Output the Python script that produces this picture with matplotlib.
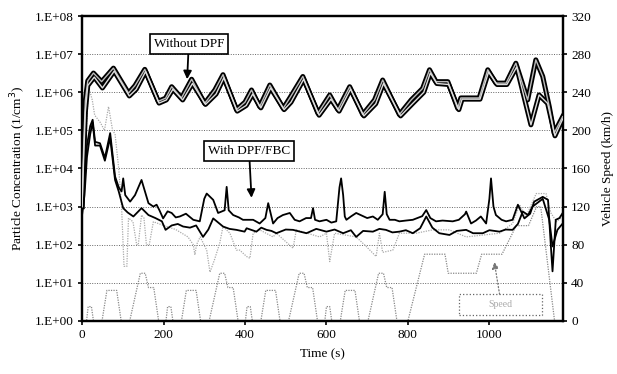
import numpy as np
import matplotlib
matplotlib.use('Agg')
import matplotlib.pyplot as plt
from matplotlib.patches import Rectangle

plt.rcParams['font.family'] = ['Liberation Serif', 'DejaVu Serif']
plt.rcParams['font.size'] = 9.5

# --- data (time s, particle concentration 1/cm3) ---
# without DPF, run A
t_nodpf_a = [0, 4, 8, 14, 28, 48, 77, 114, 130, 154, 187, 205, 220, 244, 269, 301, 326, 346,
             379, 400, 416, 436, 461, 494, 510, 542, 579, 608, 628, 657, 689, 718, 738, 779,
             808, 836, 853, 869, 898, 922, 930, 975, 996, 1016, 1041, 1065, 1094, 1114, 1131,
             1147, 1159, 1180]
c_nodpf_a = [1.0e3, 4e4, 6e5, 2.0e6, 3.2e6, 1.9e6, 4.3e6, 9.5e5, 1.5e6, 4.0e6, 5.8e5, 7e5, 1.4e6,
             7.1e5, 2.2e6, 5.1e5, 1.15e6, 2.9e6, 3.5e5, 5.5e5, 1.15e6, 4.2e5, 1.55e6, 3.8e5,
             7.1e5, 2.6e6, 2.8e5, 8.5e5, 3.5e5, 1.4e6, 2.6e5, 6.3e5, 2.1e6, 2.6e5, 6.3e5,
             1.26e6, 3.9e6, 1.9e6, 1.9e6, 3.8e5, 7.1e5, 7.1e5, 3.9e6, 1.74e6, 1.74e6, 5.8e6,
             6.3e5, 7.1e6, 2.6e6, 4.2e5, 8.5e4, 2.3e5]
# without DPF, run B
t_nodpf_b = [0, 4, 8, 14, 30, 50, 79, 116, 133, 156, 189, 207, 223, 247, 271, 303, 329, 348,
             381, 403, 419, 439, 463, 496, 513, 544, 582, 611, 631, 659, 692, 721, 740, 782,
             811, 839, 855, 871, 900, 925, 933, 977, 998, 1019, 1043, 1067, 1102, 1122, 1143,
             1161, 1180]
c_nodpf_b = [1.0e3, 2e4, 3e5, 1.5e6, 2.5e6, 1.3e6, 3.6e6, 8e5, 1.2e6, 3.5e6, 5.2e5, 6.3e5, 1.2e6,
             6.3e5, 1.7e6, 4.8e5, 9e5, 2.4e6, 3.2e5, 4.5e5, 9e5, 3.9e5, 1.3e6, 3.5e5, 5.5e5,
             2.2e6, 2.5e5, 6.6e5, 3.2e5, 1.2e6, 2.4e5, 5e5, 1.7e6, 2.4e5, 5e5, 1.0e6, 3.2e6,
             1.7e6, 1.6e6, 3.5e5, 6.6e5, 6.6e5, 3.4e6, 1.6e6, 1.6e6, 4.6e6, 1.4e5, 8.5e5,
             5.1e5, 7.2e4, 2.0e5]

# with DPF/FBC, upper trace
t_dpf_hi = [0, 6, 12, 20, 26, 32, 44, 56, 69, 81, 90, 97, 101, 106, 118, 130, 146, 163, 175,
            183, 190, 199, 210, 220, 230, 240, 255, 273, 289, 300, 306, 322, 334, 350, 355,
            360, 371, 385, 395, 404, 420, 436, 450, 457, 469, 480, 493, 510, 522, 534, 550,
            562, 567, 572, 583, 600, 612, 624, 632, 636, 641, 645, 649, 660, 673, 690, 700,
            714, 726, 738, 743, 748, 755, 768, 779, 795, 812, 835, 845, 855, 869, 885, 910,
            925, 940, 943, 955, 967, 979, 992, 1000, 1004, 1010, 1016, 1030, 1041, 1057, 1070,
            1086, 1100, 1110, 1131, 1144, 1151, 1155, 1163, 1172, 1180]
c_dpf_hi = [8e2, 4e3, 4e4, 1.3e5, 1.9e5, 5e4, 4.6e4, 1.9e4, 8.5e4, 6.2e3, 3.2e3, 2.5e3, 5.5e3,
            2.0e3, 1.35e3, 2.0e3, 5.0e3, 1.23e3, 1.0e3, 1.12e3, 8e2, 4.9e2, 7.5e2, 6.8e2,
            5.2e2, 5.5e2, 6.5e2, 4.5e2, 4.1e2, 1.6e3, 2.2e3, 1.5e3, 6.8e2, 8e2, 3.3e3, 8e2,
            6.0e2, 5.2e2, 4.5e2, 4.5e2, 4.5e2, 3.6e2, 5.0e2, 1.23e3, 3.6e2, 5.0e2, 6.0e2,
            6.8e2, 4.5e2, 4.1e2, 5.0e2, 5.0e2, 9.1e2, 4.5e2, 4.1e2, 4.5e2, 3.8e2, 4.1e2, 3.2e3,
            5.5e3, 2.0e3, 5.5e2, 4.5e2, 5.5e2, 6.8e2, 5.6e2, 5.0e2, 5.5e2, 4.5e2, 6.3e2, 2.45e3,
            6.3e2, 4.5e2, 4.5e2, 4.1e2, 4.3e2, 4.5e2, 5.6e2, 8.1e2, 5.0e2, 4.1e2, 4.3e2, 4.1e2,
            4.5e2, 6.3e2, 7.4e2, 3.6e2, 4.3e2, 5.5e2, 3.6e2, 1.6e3, 5.5e3, 1.0e3, 6.0e2, 4.5e2,
            4.1e2, 4.5e2, 1.12e3, 4.9e2, 6.5e2, 1.35e3, 1.8e3, 1.5e3, 9e1, 2.0e1, 4.5e2, 5.0e2,
            6.8e2]

# with DPF/FBC, lower trace
t_dpf_lo = [0, 6, 12, 20, 26, 32, 44, 56, 69, 81, 90, 101, 112, 126, 146, 163, 180, 196, 205,
            220, 235, 248, 265, 280, 297, 310, 322, 346, 362, 379, 399, 404, 428, 440, 453,
            465, 477, 500, 518, 535, 551, 575, 600, 620, 641, 660, 673, 690, 714, 730, 746,
            762, 779, 795, 812, 830, 845, 860, 877, 902, 920, 943, 960, 984, 1000, 1025, 1040,
            1057, 1070, 1082, 1095, 1106, 1131, 1147, 1155, 1167, 1180]
c_dpf_lo = [6e2, 2e3, 2e4, 8e4, 1.6e5, 4e4, 4e4, 1.6e4, 6.3e4, 5e3, 2.5e3, 9.1e2, 7e2, 5.5e2,
            9.1e2, 6.0e2, 5.0e2, 4.1e2, 2.45e2, 3.2e2, 3.5e2, 3.0e2, 2.8e2, 3.2e2, 1.6e2,
            2.5e2, 4.9e2, 3.0e2, 2.6e2, 2.45e2, 2.2e2, 2.7e2, 2.2e2, 2.8e2, 2.45e2, 2.3e2,
            2.0e2, 2.5e2, 2.45e2, 2.2e2, 2.0e2, 2.6e2, 2.2e2, 2.5e2, 2.0e2, 2.4e2, 1.6e2,
            2.3e2, 2.2e2, 2.6e2, 2.45e2, 2.1e2, 2.2e2, 2.4e2, 2.0e2, 2.7e2, 5.5e2, 2.8e2,
            2.0e2, 1.8e2, 2.3e2, 2.45e2, 2.0e2, 2.0e2, 2.4e2, 2.2e2, 2.5e2, 2.45e2, 3.5e2,
            7.4e2, 6.0e2, 1.0e3, 1.6e3, 4.5e2, 9e1, 2.45e2, 3.6e2]

# dotted grey particle trace
t_dot = [0, 8, 16, 25, 31, 45, 55, 65, 75, 81, 90, 97, 103, 110, 114, 125, 134, 138, 146, 152,
         158, 165, 175, 200, 230, 260, 273, 277, 281, 290, 306, 314, 325, 338, 346, 363, 379,
         387, 404, 412, 420, 436, 469, 477, 518, 526, 583, 600, 608, 620, 673, 698, 722, 730,
         738, 763, 779, 820, 861, 902, 943, 1025, 1057, 1074, 1090, 1115, 1139, 1151, 1165, 1180]
c_dot = [1e3, 3e4, 1.4e6, 6.3e5, 2.5e5, 1.6e5, 1.0e5, 4.2e5, 1.0e5, 8e4, 1.0e4, 1.0e3, 2.7e1,
         2.7e1, 5e2, 4e2, 1.0e2, 1.0e2, 6.0e2, 5.0e2, 1.0e2, 1.0e2, 4.0e2, 3.2e2, 2.5e2,
         1.6e2, 1.0e2, 5.4e1, 1.0e2, 1.6e2, 7.2e1, 1.9e1, 4.0e1, 1.1e2, 3.0e2, 2.0e2, 7.2e1,
         7.2e1, 4.9e1, 4.4e1, 2.0e2, 2.45e2, 1.6e2, 2.0e2, 8.1e1, 2.45e2, 1.6e2, 2.0e2,
         3.6e1, 2.0e2, 1.6e2, 8.9e1, 4.9e1, 2.0e2, 6.3e1, 7.2e1, 2.0e2, 2.0e2, 2.45e2,
         2.45e2, 1.6e2, 2.0e2, 3.6e2, 1.12e3, 5.5e2, 2.2e3, 2.2e3, 6.8e2, 4.0e2, 5.5e2]

# vehicle speed (km/h), ECE x4 + EUDC breakpoints
t_speed = [0, 11, 15, 23, 28, 49, 61, 85, 96, 117, 143, 155, 163, 176, 188,
           206, 210, 218, 223, 244, 256, 280, 291, 312, 338, 350, 358, 371, 383,
           401, 405, 413, 418, 439, 451, 475, 486, 507, 533, 545, 553, 566, 578,
           596, 600, 608, 613, 634, 646, 670, 681, 702, 728, 740, 748, 761, 773,
           800, 841, 891, 899, 968, 981, 1031, 1066, 1096, 1116, 1126, 1160, 1180]
v_speed = [0, 0, 15, 15, 0, 0, 32, 32, 0, 0, 50, 50, 35, 35, 0,
           0, 15, 15, 0, 0, 32, 32, 0, 0, 50, 50, 35, 35, 0,
           0, 15, 15, 0, 0, 32, 32, 0, 0, 50, 50, 35, 35, 0,
           0, 15, 15, 0, 0, 32, 32, 0, 0, 50, 50, 35, 35, 0,
           0, 70, 70, 50, 50, 70, 70, 100, 100, 120, 120, 0, 0]

decades = [1e0, 1e1, 1e2, 1e3, 1e4, 1e5, 1e6, 1e7, 1e8]
decade_labels = ['1.E+00', '1.E+01', '1.E+02', '1.E+03', '1.E+04', '1.E+05',
                 '1.E+06', '1.E+07', '1.E+08']
speed_ticks = [0, 40, 80, 120, 160, 200, 240, 280, 320]
time_ticks = [0, 200, 400, 600, 800, 1000]

fig = plt.figure(figsize=(6.17, 3.74), dpi=100)
ax = fig.add_axes([0.133, 0.142, 0.779, 0.815])
ax2 = ax.twinx()

ax.set_yscale('log')
ax.set_ylim(1e0, 1e8)
ax.set_xlim(0, 1180)
for d in decades[1:-1]:
    ax.axhline(d, color='#666666', lw=0.7, ls=(0, (1, 1.5)), zorder=0)

# dotted traces
ax.plot(t_dot, c_dot, color='#aaaaaa', lw=0.9, ls=(0, (1, 1)), zorder=2)
ax2.plot(t_speed, v_speed, color='#888888', lw=0.9, ls=(0, (1, 1)), zorder=2)

# with DPF/FBC
ax.plot(t_dpf_hi, c_dpf_hi, color='black', lw=1.3, zorder=3)
ax.plot(t_dpf_lo, c_dpf_lo, color='black', lw=1.3, zorder=3)

# without DPF: thick outlined lines
ax.plot(t_nodpf_a, c_nodpf_a, color='black', lw=3.6, zorder=4, solid_joinstyle='round')
ax.plot(t_nodpf_b, c_nodpf_b, color='black', lw=3.6, zorder=4, solid_joinstyle='round')
ax.plot(t_nodpf_a, c_nodpf_a, color='#bbbbbb', lw=1.0, zorder=5, solid_joinstyle='round')
ax.plot(t_nodpf_b, c_nodpf_b, color='#dddddd', lw=1.0, zorder=5, solid_joinstyle='round')

ax.set_yticks(decades)
ax.set_yticklabels(decade_labels)
ax.minorticks_off()
ax.set_xticks(time_ticks)
ax.set_xlabel('Time (s)', labelpad=5)
ax.set_ylabel('Particle Concentration (1/cm$^3$)', labelpad=5)

ax2.set_ylim(0, 320)
ax2.set_yticks(speed_ticks)
ax2.set_ylabel('Vehicle Speed (km/h)', labelpad=8)

for a in (ax, ax2):
    for s in a.spines.values():
        s.set_linewidth(1.6)
    a.tick_params(direction='out', length=3, width=1.2, pad=3)
ax.set_zorder(ax2.get_zorder() + 1)
ax.patch.set_visible(False)

# annotations
ax.annotate('Without DPF', xy=(258, 2.2e6), xytext=(262, 1.9e7), ha='center', va='center',
            fontsize=9.5, bbox=dict(boxstyle='square,pad=0.3', fc='white', ec='black', lw=1.2),
            arrowprops=dict(arrowstyle='-|>', color='black', lw=1.3, mutation_scale=12,
                            shrinkA=0, shrinkB=0), zorder=6)
ax.annotate('With DPF/FBC', xy=(416, 1.7e3), xytext=(410, 2.9e4), ha='center', va='center',
            fontsize=9.5, bbox=dict(boxstyle='square,pad=0.3', fc='white', ec='black', lw=1.2),
            arrowprops=dict(arrowstyle='-|>', color='black', lw=1.3, mutation_scale=12,
                            shrinkA=0, shrinkB=0), zorder=6)

# speed label box
ax2.add_patch(Rectangle((926, 6), 204, 22, fc='white', ec='#666666', lw=0.9, ls=':', zorder=3))
ax2.text(1028, 17, 'Speed', ha='center', va='center', fontsize=7, color='#aaaaaa', zorder=4)
ax2.annotate('', xy=(1012, 62), xytext=(1025, 28),
             arrowprops=dict(arrowstyle='-|>', color='#777777', lw=0.9, ls=':',
                             mutation_scale=10, shrinkA=0, shrinkB=0))

fig.savefig('out.png', dpi=100)
